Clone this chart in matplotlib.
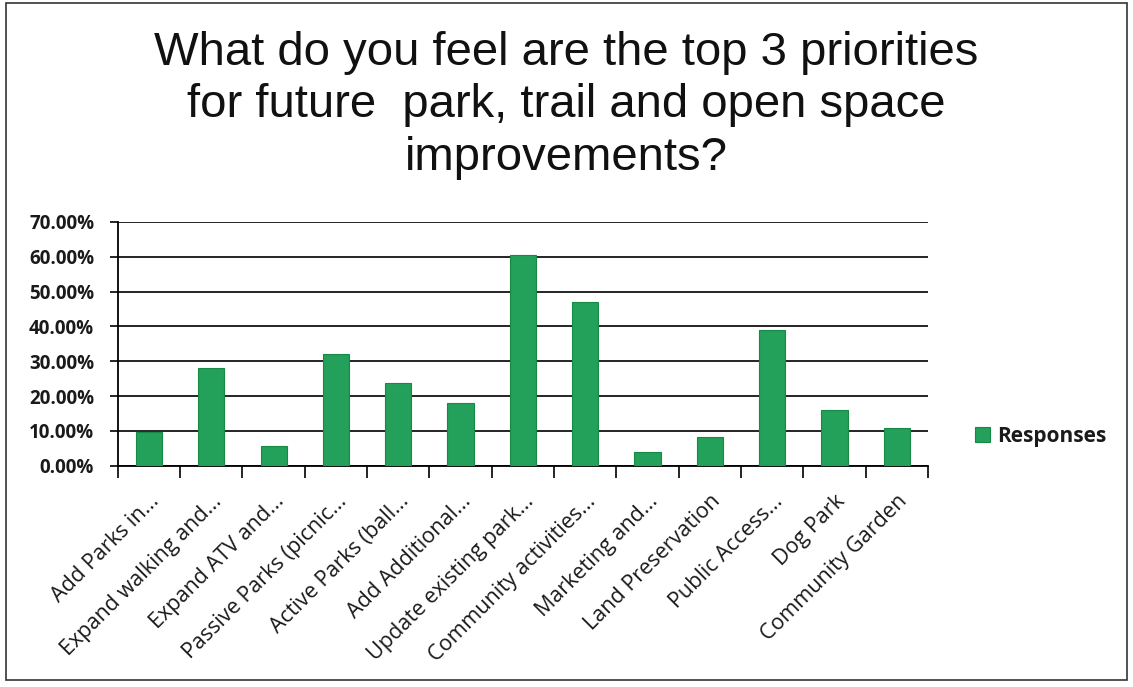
import numpy as np
import matplotlib
matplotlib.use('Agg')
import matplotlib.pyplot as plt
from matplotlib.patches import Rectangle

categories = ['Add Parks in...', 'Expand walking and...', 'Expand ATV and...',
              'Passive Parks (picnic...', 'Active Parks (ball...', 'Add Additional...',
              'Update existing park...', 'Community activities...', 'Marketing and...',
              'Land Preservation', 'Public Access...', 'Dog Park', 'Community Garden']
responses = [9.8, 28.0, 5.6, 32.1, 23.7, 17.9, 60.6, 47.1, 4.1, 8.4, 39.1, 16.1, 10.9]
yticks = [0, 10, 20, 30, 40, 50, 60, 70]

bar_color = '#23a05a'
lab_font = 'Open Sans'

fig = plt.figure(figsize=(11.33, 6.87), dpi=100)
ax = fig.add_axes([0.104, 0.322, 0.715, 0.355])

x = np.arange(len(categories))
ax.bar(x, responses, width=0.42, color=bar_color, edgecolor='#168a45', linewidth=0.8,
       label='Responses', zorder=3)

ax.set_xlim(-0.5, len(categories) - 0.5)
ax.set_ylim(0, 70)
ax.set_yticks(yticks)
ax.set_yticklabels(['{:.2f}%'.format(v) for v in yticks], fontfamily=lab_font,
                   fontsize=13.5, fontweight='bold', color='#1a1a1a')
ax.yaxis.grid(True, color='black', linewidth=1.2, zorder=0)
ax.tick_params(axis='y', length=6, width=1.2, pad=11)

# category ticks sit between the bars
ax.set_xticks(np.arange(len(categories) + 1) - 0.5, minor=False)
ax.set_xticklabels([])
ax.tick_params(axis='x', which='major', length=8.5, width=1.2, direction='out')
ax.set_xticks(x, minor=True)
ax.set_xticklabels(categories, minor=True, rotation=45, ha='right', va='top',
                   rotation_mode='anchor', fontfamily=lab_font, fontsize=15.5,
                   color='#1a1a1a')
ax.tick_params(axis='x', which='minor', length=0, pad=18)

for side in ['top', 'right']:
    ax.spines[side].set_visible(False)
ax.spines['left'].set_linewidth(1.3)
ax.spines['bottom'].set_linewidth(1.3)

fig.text(0.5, 0.955, 'What do you feel are the top 3 priorities\nfor future  park, trail and open space\nimprovements?',
         ha='center', va='top', fontsize=34, fontfamily='Liberation Sans',
         color='#111111', linespacing=1.25)

leg = ax.legend(loc='center left', bbox_to_anchor=(1.035, 0.12), frameon=False,
                handlelength=0.7, handleheight=0.7, handletextpad=0.35,
                prop={'family': lab_font, 'size': 15, 'weight': 'bold'})
for t in leg.get_texts():
    t.set_color('#1a1a1a')

fig.patches.append(Rectangle((0.005, 0.01), 0.99, 0.985, transform=fig.transFigure,
                             fill=False, edgecolor='#333333', linewidth=1.2))

fig.savefig('out.png', dpi=100)
